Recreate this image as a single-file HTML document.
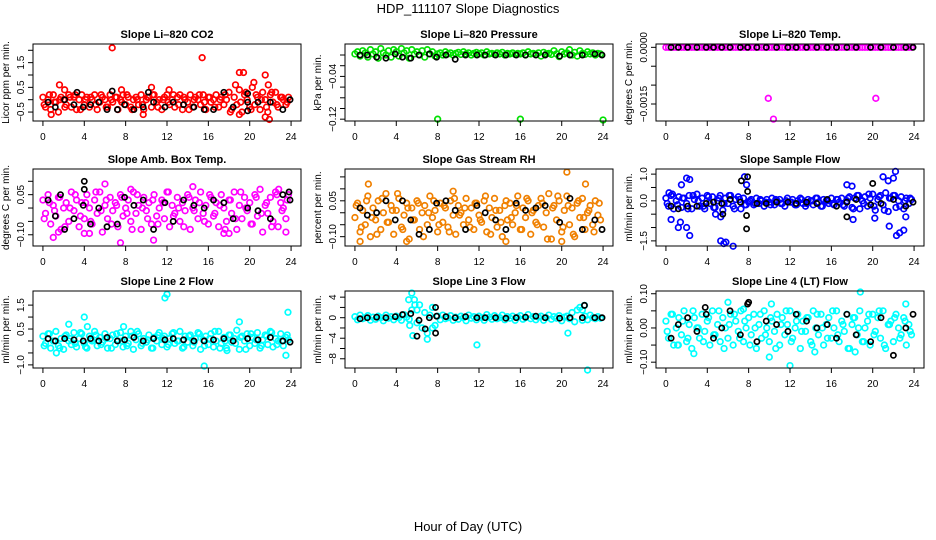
<!DOCTYPE html>
<html><head><meta charset="utf-8"><style>
html,body{margin:0;padding:0;background:#fff;}
svg{display:block;font-family:"Liberation Sans",sans-serif;}
</style></head><body>
<svg id="chart" width="936" height="540" viewBox="0 0 936 540" xmlns="http://www.w3.org/2000/svg">
<rect x="0" y="0" width="936" height="540" fill="#fff"/>
<text x="468" y="13" font-size="13" text-anchor="middle">HDP_111107  Slope Diagnostics</text>
<text x="468" y="531" font-size="13" text-anchor="middle">Hour of Day (UTC)</text>
<g id="plots"></g>
</svg>
<script>
const hours=[0,0.25,0.5,0.75,1,1.25,1.5,1.75,2,2.25,2.5,2.75,3,3.25,3.5,3.75,4,4.25,4.5,4.75,5,5.25,5.5,5.75,6,6.25,6.5,6.75,7,7.25,7.5,7.75,8,8.25,8.5,8.75,9,9.25,9.5,9.75,10,10.25,10.5,10.75,11,11.25,11.5,11.75,12,12.25,12.5,12.75,13,13.25,13.5,13.75,14,14.25,14.5,14.75,15,15.25,15.5,15.75,16,16.25,16.5,16.75,17,17.25,17.5,17.75,18,18.25,18.5,18.75,19,19.25,19.5,19.75,20,20.25,20.5,20.75,21,21.25,21.5,21.75,22,22.25,22.5,22.75,23,23.25,23.5,23.75];
const hoursB=[0.125,0.625,1.125,1.625,2.125,2.625,3.125,3.625,4.125,4.625,5.125,5.625,6.125,6.625,7.125,7.625,8.125,8.625,9.125,9.625,10.125,10.625,11.125,11.625,12.125,12.625,13.125,13.625,14.125,14.625,15.125,15.625,16.125,16.625,17.125,17.625,18.125,18.625,19.125,19.625,20.125,20.625,21.125,21.625,22.125,22.625,23.125,23.625];
const blackHours=[0.5,1.2,2.1,3.0,3.9,4.6,5.4,6.2,7.2,7.9,8.8,9.7,10.7,11.8,12.6,13.6,14.6,15.6,16.5,17.5,18.4,19.8,20.8,22.0,23.2,23.9];
const xTicks=[0,4,8,12,16,20,24];

const co2Band=[0.1,-0.3,0.0,-0.4,0.2,-0.1,-0.5,0.1,0.0,-0.2,0.2,-0.3,0.1,-0.4,0.0,0.2,-0.2,0.1,-0.3,0.0,0.2,-0.4,-0.1,0.1,0.0,-0.3,0.2,-0.1,0.1,-0.4,0.0,0.2,-0.2,0.1,-0.3,0.0,0.1,-0.2,0.2,-0.4,0.0,0.1,-0.3,0.2,-0.1,0.0,-0.4,0.1,0.2,-0.2,0.0,-0.3,0.1,0.2,-0.4,0.0,-0.1,0.2,-0.3,0.1,0.0,-0.2,0.2,-0.4,0.1,-0.1,0.0,0.2,-0.3,0.1,-0.2,0.0,0.3,-0.4,0.1,-0.2,0.4,-0.5,0.2,0.0,-0.3,0.5,-0.2,0.1,-0.4,0.3,0.0,-0.5,0.2,-0.1,0.3,-0.3,0.1,0.0,-0.2,0.1];
const co2Band2=[-0.2,0.2,-0.1,0.0,-0.3,0.1,0.2,-0.4,0.0,0.1,-0.2,0.2,-0.3,0.0,0.1,-0.1,0.2,-0.4,0.0,-0.2,0.1,0.2,-0.3,0.0,-0.1,0.2,-0.2,0.1,-0.4,0.0,0.2,-0.1,0.1,-0.3,0.0,0.2,-0.5,0.6,-0.1,0.3,-0.4,0.2,0.0,-0.3,0.3,-0.2,0.1,-0.1];
const co2OutX=[6.7,15.4,1.6,19,19.4,21.5,21.8,20.4,21.5,21.9,7.6,10.5,12.2,9.7,2.1,0.8,19];
const co2OutY=[2.1,1.7,0.6,1.1,1.1,1.0,0.6,0.7,-0.7,-0.8,0.4,0.5,0.4,-0.6,0.4,-0.6,-0.6];
const co2Black=[-0.1,-0.3,0.0,-0.2,-0.3,-0.2,-0.1,-0.4,-0.4,-0.2,-0.4,-0.3,-0.1,-0.3,-0.1,-0.2,-0.3,-0.4,-0.4,0.3,-0.3,-0.1,-0.1,-0.1,-0.4,0.0];
const co2BkOutX=[6.7,10.2,19.8,3.3,19.8];
const co2BkOutY=[0.35,0.3,0.25,0.3,-0.45];

const presBand=[0.002,0.006,-0.002,0.008,0.004,-0.004,0.010,0.002,0.006,-0.006,0.012,0.004,0.000,0.008,-0.004,0.010,0.006,-0.002,0.012,0.004,0.008,-0.006,0.010,0.002,0.006,0.000,0.008,-0.004,0.010,0.002,0.006,-0.002,0.002,0.004,0.000,0.006,0.002,0.004,0.000,0.003,0.005,0.001,0.006,0.002,0.004,0.000,0.003,0.005,0.002,0.004,0.000,0.006,0.002,0.003,0.001,0.004,0.002,0.005,0.000,0.003,0.002,0.004,0.001,0.003,0.002,0.004,0.000,0.006,0.002,0.003,0.001,0.004,-0.002,0.005,0.002,0.003,0.001,0.008,0.002,-0.003,0.006,0.002,0.004,0.010,0.000,0.005,-0.002,0.008,0.003,0.001,0.006,0.002,0.004,0.000,0.003,0.002];
const presOutX=[8,16,24];
const presOutY=[-0.12,-0.12,-0.1215];
const presBlack=[0.0,0.0,-0.004,-0.006,0.002,-0.004,-0.006,0.0,0.002,-0.004,0.0,-0.008,0.0,0.0,0.0,0.0,0.0,0.0,0.0,0.0,0.0,-0.002,0.0,0.0,0.002,0.0];

const tempBand=[0,0,0,0,0,0,0,0,0,0,0,0,0,0,0,0,0,0,0,0,0,0,0,0,0,0,0,0,0,0,0,0,0,0,0,0,0,0,0,0,0,0,0,0,0,0,0,0,0,0,0,0,0,0,0,0,0,0,0,0,0,0,0,0,0,0,0,0,0,0,0,0,0,0,0,0,0,0,0,0,0,0,0,0,0,0,0,0,0,0,0,0,0,0,0,0];
const tempOutX=[9.9,20.3,10.4];
const tempOutY=[-0.00135,-0.00135,-0.0019];
const tempBlack=[0,0,0,0,0,0,0,0,0,0,0,0,0,0,0,0,0,0,0,0,0,0,0,0,0,0];

const ambBand=[0.03,-0.02,0.05,-0.06,0.01,-0.03,0.04,-0.08,0.00,0.02,-0.05,0.06,-0.01,0.03,-0.07,0.02,-0.04,0.05,0.00,-0.06,0.03,-0.02,0.06,-0.09,0.01,-0.04,0.04,-0.01,0.02,-0.07,0.05,-0.03,0.00,0.03,-0.05,0.06,-0.02,0.01,-0.08,0.04,-0.01,0.02,-0.06,0.05,-0.03,0.00,0.03,-0.04,0.06,-0.07,0.01,-0.02,0.04,-0.05,0.02,-0.01,0.05,-0.08,0.00,0.03,-0.04,0.06,-0.02,0.01,-0.06,0.04,-0.03,0.02,-0.07,0.05,0.00,-0.05,0.03,-0.02,0.06,-0.08,0.01,-0.04,0.04,-0.01,0.02,-0.06,0.05,-0.03,0.07,-0.09,0.01,-0.02,0.04,-0.05,0.06,-0.07,0.02,0.00,-0.04,0.05];
const ambBand2=[-0.04,0.02,-0.01,0.04,-0.07,0.00,0.05,-0.03,0.02,-0.05,0.06,-0.01,0.03,-0.06,0.01,0.04,-0.02,-0.08,0.05,0.00,-0.04,0.03,-0.06,0.02,0.06,-0.03,0.00,-0.07,0.04,-0.01,0.02,-0.05,0.05,-0.02,0.01,-0.08,0.03,-0.04,0.06,0.00,-0.06,0.04,-0.02,0.02,-0.07,0.05,-0.01,0.03];
const ambOutX=[6,10.7,7.5,8.5,14.5,17.5,18,23.5,1.5,4,4.5,1,22.8];
const ambOutY=[0.09,-0.12,-0.13,0.07,0.08,-0.095,-0.095,-0.09,-0.09,-0.095,-0.095,-0.11,0.07];
const ambBlack=[0.03,-0.03,-0.08,-0.04,0.01,-0.06,0.00,-0.07,-0.06,0.04,0.01,0.03,-0.08,0.02,-0.05,0.03,0.01,0.00,0.03,0.02,-0.04,0.00,-0.01,-0.04,0.05,0.03];
const ambBkOutX=[4,4,1.7,23.8];
const ambBkOutY=[0.1,0.07,0.05,0.06];

const rhBand=[-0.02,0.04,-0.08,0.01,-0.05,0.07,-0.10,0.02,-0.03,0.05,-0.07,0.00,0.08,-0.04,0.03,-0.09,0.01,0.06,-0.06,-0.01,0.04,-0.11,0.02,-0.03,0.05,-0.07,0.00,0.03,-0.05,0.07,-0.02,0.01,-0.08,0.04,-0.04,0.02,-0.06,0.05,-0.01,-0.09,0.03,0.00,-0.05,0.06,-0.03,0.02,-0.07,0.04,-0.01,-0.04,0.05,-0.08,0.02,-0.02,0.06,-0.06,0.01,-0.10,0.03,-0.03,0.04,-0.05,0.00,0.07,-0.07,0.02,-0.02,0.05,-0.09,0.01,-0.04,0.03,0.06,-0.06,0.00,0.08,-0.11,0.03,-0.03,0.05,-0.08,0.01,0.07,-0.05,0.02,-0.10,0.04,-0.02,0.06,-0.07,0.00,0.03,-0.05,0.05,-0.01,-0.03];
const rhBand2=[0.03,-0.06,0.05,-0.02,-0.09,0.06,-0.04,0.01,0.08,-0.07,0.02,-0.03,0.04,-0.10,0.00,0.05,-0.05,0.03,-0.08,0.06,-0.01,0.02,-0.06,0.04,-0.03,0.07,-0.09,0.01,-0.04,0.05,-0.02,0.03,-0.07,0.06,0.00,-0.05,0.04,-0.11,0.02,0.07,-0.06,0.03,-0.09,0.05,-0.02,0.01,-0.08,0.04];
const rhOutX=[0.5,20.5,5,1.3,9.5,22.3,20,14.6];
const rhOutY=[-0.12,0.17,-0.12,0.12,0.09,0.12,-0.12,-0.12];
const rhBlack=[0.02,-0.01,0.00,0.05,-0.03,0.05,-0.03,-0.09,-0.07,0.04,0.05,0.01,-0.07,0.03,0.00,-0.03,-0.07,0.04,0.01,0.02,0.03,-0.04,0.06,-0.07,-0.03,-0.07];

const flowBand=[0.1,-0.2,0.2,-0.3,0.0,0.15,-0.25,0.1,-0.1,0.2,-0.3,0.05,0.25,-0.2,0.1,-0.3,0.2,-0.1,0.15,-0.25,0.0,0.2,-0.35,0.1,-0.1,0.2,-0.2,0.05,0.15,-0.3,0.1,-0.15,-0.05,0.05,-0.15,0.1,-0.1,0.0,-0.2,0.05,-0.05,0.1,-0.15,0.0,0.05,-0.1,-0.2,0.1,-0.05,0.05,-0.15,0.0,0.1,-0.1,-0.2,0.05,0.0,-0.15,0.1,-0.05,-0.2,0.05,0.0,-0.1,0.1,-0.15,0.05,-0.05,0.1,-0.2,0.0,0.15,-0.25,0.1,0.2,-0.3,0.0,0.15,-0.2,0.1,0.25,-0.35,0.05,0.2,-0.15,0.3,-0.4,0.1,0.2,-0.25,0.0,0.15,-0.3,0.1,-0.1,0.05];
const flowBand2=[-0.1,0.25,-0.15,0.1,-0.3,0.2,0.0,-0.2,0.15,-0.25,0.1,-0.1,0.2,-0.3,0.05,-0.15,0.0,-0.1,0.05,-0.05,-0.15,0.05,-0.1,0.0,-0.05,-0.15,0.05,-0.1,0.0,0.1,-0.2,0.0,-0.1,0.05,-0.15,0.1,-0.3,0.2,-0.1,0.25,-0.2,0.15,-0.35,0.1,0.2,-0.2,0.0,0.1];
const flowOutX=[0.3,1.5,2,2.3,0.5,1.2,1.4,2,2.3,5.3,5.6,5.8,6.5,7.6,7.8,17.5,18,18.1,20.2,21,21.5,22,22.2,21.6,22.3,22.6,23,23.2,5.3,4.8];
const flowOutY=[0.3,0.6,0.85,0.8,-0.7,-1.0,-0.8,-1.0,-1.3,-1.5,-1.6,-1.55,-1.7,0.9,0.6,0.6,0.55,-0.7,-0.65,0.9,0.75,0.85,1.1,-0.95,-1.3,-1.2,-1.1,-0.6,-0.6,-0.5];
const flowBlack=[-0.2,-0.3,-0.2,-0.2,-0.1,-0.05,-0.1,0.05,-0.05,0.35,-0.1,-0.1,-0.05,-0.05,-0.1,-0.05,-0.1,0.05,-0.2,-0.05,0.05,-0.15,-0.1,0.05,-0.2,-0.05];
const flowBkOutX=[7.3,7.9,7.8,7.8,5.5,20,17.5];
const flowBkOutY=[0.75,0.9,-1.05,-0.55,-0.5,0.65,-0.6];

const l2Band=[0.2,-0.1,0.3,-0.3,0.0,0.4,-0.2,0.1,-0.35,0.25,0.0,-0.15,0.35,-0.25,0.1,0.3,-0.1,-0.3,0.2,0.0,0.4,-0.2,0.15,-0.05,0.3,-0.3,0.1,0.25,-0.15,0.0,0.35,-0.25,0.2,-0.1,0.4,-0.35,0.05,0.3,-0.2,0.1,-0.05,0.25,-0.3,0.15,0.0,0.35,-0.15,0.2,-0.25,0.1,0.3,-0.1,0.0,0.4,-0.3,0.2,-0.05,0.25,-0.2,0.1,0.35,-0.35,0.05,0.2,-0.15,0.3,-0.25,0.0,0.4,-0.1,0.15,-0.3,0.25,-0.05,0.1,0.45,-0.35,0.2,0.0,0.3,-0.2,0.15,-0.1,0.35,-0.3,0.05,0.25,-0.15,0.4,-0.25,0.1,0.0,0.3,-0.2,0.15,0.05];
const l2Band2=[-0.2,0.3,0.0,-0.3,0.2,0.1,-0.1,0.35,-0.25,0.05,0.25,-0.15,0.1,-0.3,0.3,0.0,-0.2,0.2,0.4,-0.1,0.05,-0.3,0.25,0.1,-0.15,0.35,0.0,-0.25,0.2,-0.05,0.3,-0.2,0.1,0.4,-0.3,0.0,0.25,-0.1,0.15,-0.35,0.3,0.05,-0.2,0.2,0.35,-0.15,0.0,0.25];
const l2OutX=[11.8,12,15.6,4,2.5,23.7,23.5,1.3,19,7.8,4.3,17.8];
const l2OutY=[1.8,1.95,-1.05,1.0,0.7,1.2,-0.6,-0.5,0.8,0.6,0.6,-0.4];
const l2Black=[0.1,0.0,0.1,0.05,0.0,0.1,0.0,0.15,0.0,0.05,0.15,0.0,0.1,0.05,0.1,0.05,0.0,0.0,0.05,0.1,0.0,0.1,0.05,0.15,0.0,-0.05];

const l3Band=[0.2,-0.4,0.5,-0.2,0.0,0.4,-0.5,0.1,-0.3,0.3,0.0,-0.6,0.5,-0.1,0.2,-0.4,0.3,0.0,-0.5,0.6,0.1,-0.3,1.5,3.5,-1.0,2.5,-2.0,1.0,-3.0,0.5,2.0,-1.5,0.3,-0.4,0.5,-0.2,0.0,0.4,-0.5,0.1,-0.3,0.3,0.0,-0.6,0.5,-0.1,0.2,-0.4,0.3,0.0,-0.5,0.6,0.1,-0.3,0.4,-0.2,0.0,0.5,-0.4,0.2,-0.1,0.3,-0.5,0.1,0.4,-0.3,0.0,0.6,-0.2,0.2,-0.4,0.1,0.3,-0.5,0.0,0.5,-0.3,0.2,-0.1,0.4,-0.6,0.1,0.3,-0.2,1.0,-0.8,1.5,2.0,-0.5,0.3,-0.4,0.5,0.0,-0.2,0.2,-0.1];
const l3OutX=[5.5,5.2,5.8,5.3,5.6,7,7.5,11.8,20.6,22.5,22.2,22,6];
const l3OutY=[4.8,3.5,2.5,-1.5,-3.5,-4.2,-2,-5.3,-3,-10.2,2.4,1.5,1.5];
const l3Black=[-0.2,0.0,0.1,0.0,0.2,0.6,0.8,-0.5,0.0,0.3,0.2,0.0,0.2,0.0,0.0,0.0,-0.1,0.0,0.1,0.3,0.0,-0.1,0.0,0.0,0.0,0.0];
const l3BkOutX=[6,6.8,7.8,7.8,22.2];
const l3BkOutY=[-3.6,-2.2,-3,2,2.4];

const l4Band=[0.02,-0.03,0.04,-0.05,0.00,0.03,-0.02,0.05,-0.04,0.01,-0.06,0.03,0.00,-0.03,0.04,-0.01,0.02,-0.05,0.05,-0.02,0.01,-0.04,0.03,0.00,-0.03,0.04,-0.05,0.02,-0.01,0.05,-0.04,0.00,0.03,-0.02,0.04,-0.06,0.01,-0.03,0.05,0.00,-0.04,0.02,-0.01,0.04,-0.05,0.03,-0.02,0.01,0.05,-0.03,0.00,0.04,-0.06,0.02,-0.01,0.03,-0.04,0.05,0.00,-0.02,0.04,-0.05,0.01,0.03,-0.03,0.00,0.05,-0.04,0.02,-0.01,0.04,-0.06,0.01,0.03,-0.02,0.05,-0.04,0.00,0.02,-0.05,0.04,-0.01,0.03,-0.03,0.05,-0.06,0.01,0.02,-0.04,0.04,0.00,-0.02,0.03,-0.05,0.01,-0.02];
const l4Band2=[-0.01,0.04,-0.05,0.02,-0.03,0.05,0.00,-0.04,0.03,-0.02,0.05,-0.06,0.01,0.04,-0.03,0.02,-0.05,0.00,0.04,-0.02,0.03,-0.06,0.01,0.05,-0.04,0.02,-0.01,0.03,-0.05,0.04,0.00,-0.03,0.05,-0.02,0.01,-0.06,0.03,0.00,-0.04,0.04,-0.02,0.05,-0.05,0.01,0.03,-0.03,0.02,-0.01];
const l4OutX=[18.8,12,10,2.7,7.5,10.2,14.4,18.3,23.2,1.2,6];
const l4OutY=[0.105,-0.11,-0.085,-0.075,0.055,0.07,-0.07,-0.07,0.07,-0.05,0.075];
const l4Black=[-0.03,0.01,0.03,-0.01,0.04,-0.03,0.00,0.05,-0.02,0.07,-0.04,0.02,0.01,-0.01,0.04,0.02,0.00,0.01,-0.03,0.04,-0.02,-0.04,0.03,-0.08,0.00,0.04];
const l4BkOutX=[8,3.8];
const l4BkOutY=[0.075,0.06];

const panels=[
 {id:'co2',title:'Slope Li\u2013820 CO2',ylab:'Licor ppm per min.',col:0,row:0,ymin:-0.862,ymax:2.255,ticks:[-0.5,0,0.5,1,1.5,2],labels:[[-0.5,'\u22120.5'],[0.5,'0.5'],[1.5,'1.5']],color:'#ff0000',band:co2Band,band2:co2Band2,ox:co2OutX,oy:co2OutY,bk:co2Black,bx:co2BkOutX,by:co2BkOutY},
 {id:'pressure',title:'Slope Li\u2013820 Pressure',ylab:'kPa per min.',col:1,row:0,ymin:-0.1234,ymax:0.0206,ticks:[-0.12,-0.1,-0.08,-0.06,-0.04,-0.02,0],labels:[[-0.12,'\u22120.12'],[-0.04,'\u22120.04']],color:'#00e000',band:presBand,band2:[],ox:presOutX,oy:presOutY,bk:presBlack,bx:[],by:[]},
 {id:'temp',title:'Slope Li\u2013820 Temp.',ylab:'degrees C per min.',col:2,row:0,ymin:-0.00195,ymax:0.0000881,ticks:[-0.0015,-0.001,-0.0005,0],labels:[[-0.0015,'\u22120.0015'],[0,'0.0000']],color:'#ff00ff',band:tempBand,band2:[],ox:tempOutX,oy:tempOutY,bk:tempBlack,bx:[],by:[]},
 {id:'amb-temp',title:'Slope Amb. Box Temp.',ylab:'degrees C per min.',col:0,row:1,ymin:-0.142,ymax:0.146,ticks:[-0.1,-0.05,0,0.05,0.1],labels:[[-0.1,'\u22120.10'],[0.05,'0.05']],color:'#ff00ff',band:ambBand,band2:ambBand2,ox:ambOutX,oy:ambOutY,bk:ambBlack,bx:ambBkOutX,by:ambBkOutY},
 {id:'gas-rh',title:'Slope Gas Stream RH',ylab:'percent per min.',col:1,row:1,ymin:-0.139,ymax:0.183,ticks:[-0.1,-0.05,0,0.05,0.1,0.15],labels:[[-0.1,'\u22120.10'],[0.05,'0.05']],color:'#f08000',band:rhBand,band2:rhBand2,ox:rhOutX,oy:rhOutY,bk:rhBlack,bx:[],by:[]},
 {id:'sample-flow',title:'Slope Sample Flow',ylab:'ml/min per min.',col:2,row:1,ymin:-1.692,ymax:1.192,ticks:[-1.5,-1,-0.5,0,0.5,1],labels:[[-1.5,'\u22121.5'],[0,'0.0'],[1,'1.0']],color:'#0000ff',band:flowBand,band2:flowBand2,ox:flowOutX,oy:flowOutY,bk:flowBlack,bx:flowBkOutX,by:flowBkOutY},
 {id:'line2-flow',title:'Slope Line 2 Flow',ylab:'ml/min per min.',col:0,row:2,ymin:-1.13,ymax:2.09,ticks:[-1,-0.5,0,0.5,1,1.5],labels:[[-1,'\u22121.0'],[0.5,'0.5'],[1.5,'1.5']],color:'#00ffff',band:l2Band,band2:l2Band2,ox:l2OutX,oy:l2OutY,bk:l2Black,bx:[],by:[]},
 {id:'line3-flow',title:'Slope Line 3 Flow',ylab:'ml/min per min.',col:1,row:2,ymin:-9.8,ymax:5.2,ticks:[-8,-6,-4,-2,0,2,4],labels:[[-8,'\u22128'],[-4,'\u22124'],[0,'0'],[4,'4']],color:'#00ffff',band:l3Band,band2:[],ox:l3OutX,oy:l3OutY,bk:l3Black,bx:l3BkOutX,by:l3BkOutY},
 {id:'line4-flow',title:'Slope Line 4 (LT) Flow',ylab:'ml/min per min.',col:2,row:2,ymin:-0.117,ymax:0.108,ticks:[-0.1,-0.05,0,0.05,0.1],labels:[[-0.1,'\u22120.10'],[0,'0.00'],[0.1,'0.10']],color:'#00ffff',band:l4Band,band2:l4Band2,ox:l4OutX,oy:l4OutY,bk:l4Black,bx:l4BkOutX,by:l4BkOutY}
];
const boxLeft=[33,345,656], boxW=268, boxTop=[44,169,291], boxH=77;
const NS='http://www.w3.org/2000/svg';
const root=document.getElementById('plots');
function mk(tag,attrs,parent){const e=document.createElementNS(NS,tag);for(const k in attrs)e.setAttribute(k,attrs[k]);parent.appendChild(e);return e;}
panels.forEach(p=>{
  const L=boxLeft[p.col],T=boxTop[p.row],R=L+boxW,B=T+boxH;
  const xs=h=>L+boxW*(h+0.96)/25.92;
  const ys=v=>B-boxH*(v-p.ymin)/(p.ymax-p.ymin);
  const g=mk('g',{},root);
  
  
  const t=mk('text',{x:(L+R)/2,y:T-6,'font-size':11,'font-weight':'bold','text-anchor':'middle'},g);
  t.textContent=p.title;
  
  
  const yl=mk('text',{transform:'translate('+(L-24)+','+((T+B)/2)+') rotate(-90)','font-size':10,'text-anchor':'middle'},g);
  yl.textContent=p.ylab;
  
  
  const pts=mk('g',{fill:'none','stroke-width':1.7},g);
  
  
  p.band.forEach((v,i)=>{if(i<hours.length){const c=mk('circle',{cx:xs(hours[i]),cy:ys(v),r:2.8,stroke:p.color},pts);
    
    }});
  p.band2.forEach((v,i)=>{if(i<hoursB.length){const c=mk('circle',{cx:xs(hoursB[i]),cy:ys(v),r:2.8,stroke:p.color},pts);
    
    }});
  p.ox.forEach((x,i)=>{const c=mk('circle',{cx:xs(x),cy:ys(p.oy[i]),r:2.8,stroke:p.color},pts);
    
    });
  p.bk.forEach((v,i)=>{if(i<blackHours.length){const c=mk('circle',{cx:xs(blackHours[i]),cy:ys(v),r:2.6,stroke:'#000'},pts);
    
    }});
  p.bx.forEach((x,i)=>{const c=mk('circle',{cx:xs(x),cy:ys(p.by[i]),r:2.6,stroke:'#000'},pts);
    
    });
  const box=mk('rect',{x:L,y:T,width:boxW,height:boxH,fill:'none',stroke:'#000','stroke-width':1},g);
  
  
  const ax=mk('g',{stroke:'#000','stroke-width':1},g);
  
  
  mk('line',{x1:xs(0),x2:xs(24),y1:B,y2:B},ax);
  xTicks.forEach(h=>{mk('line',{x1:xs(h),x2:xs(h),y1:B,y2:B+5},ax);
    const tl=mk('text',{x:xs(h),y:B+19,'font-size':10,'text-anchor':'middle',stroke:'none',fill:'#000'},ax);
    tl.textContent=String(h);
    
    });
  const ay=mk('g',{stroke:'#000','stroke-width':1},g);
  
  
  mk('line',{x1:L,x2:L,y1:ys(p.ticks[0]),y2:ys(p.ticks[p.ticks.length-1])},ay);
  p.ticks.forEach(v=>mk('line',{x1:L-5,x2:L,y1:ys(v),y2:ys(v)},ay));
  p.labels.forEach(([v,s])=>{const tl=mk('text',{transform:'translate('+(L-9)+','+ys(v)+') rotate(-90)','font-size':10,'text-anchor':'middle',stroke:'none',fill:'#000'},ay);
    tl.textContent=s;
    
    });
});
</script>
</body></html>
